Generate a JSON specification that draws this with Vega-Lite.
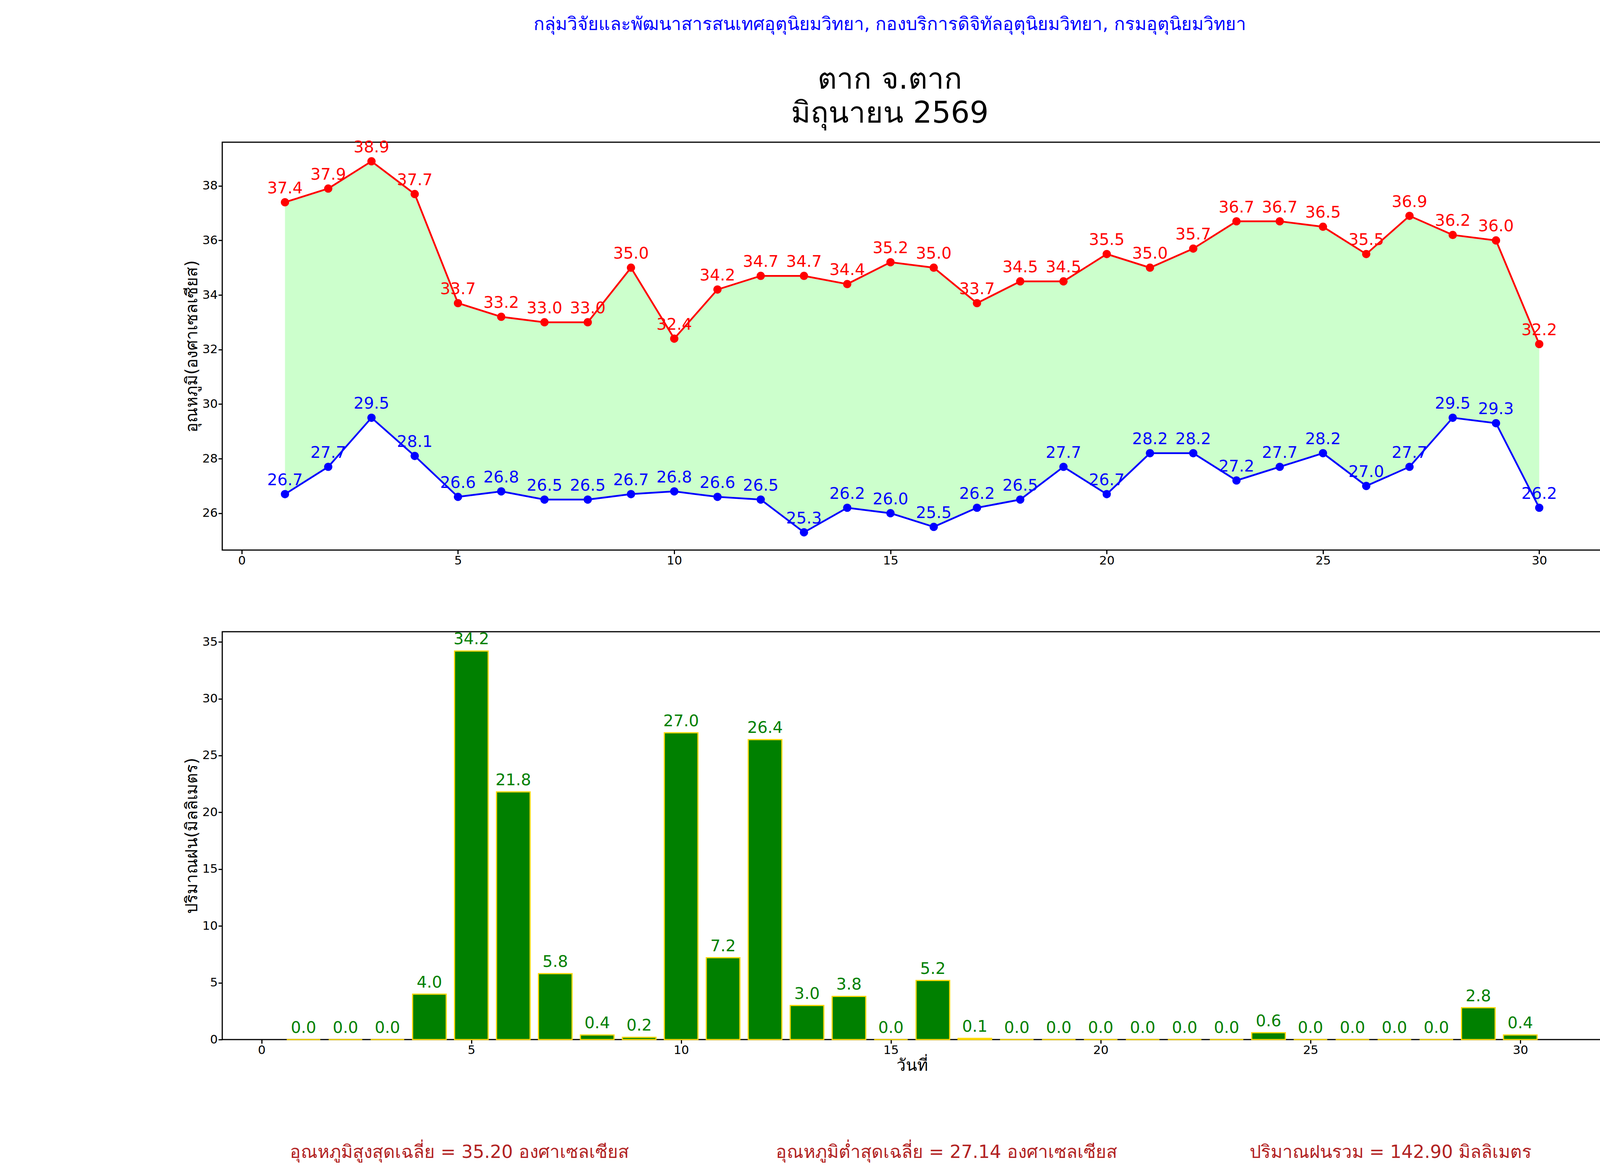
{
"$schema":"https://vega.github.io/schema/vega-lite/v6.json",
"padding":{"left":469,"top":40,"right":0,"bottom":0},
"background":"white",
"config":{"font":"DejaVu Sans","view":{"stroke":"black","strokeWidth":3},"axis":{"grid":false,"labelFontSize":31,"titleFontSize":42,"titleFontWeight":"normal","domain":false,"tickColor":"black","tickWidth":3,"tickSize":10,"labelColor":"black","titleColor":"black"}},
"title":{"text":"กลุ่มวิจัยและพัฒนาสารสนเทศอุตุนิยมวิทยา, กองบริการดิจิทัลอุตุนิยมวิทยา, กรมอุตุนิยมวิทยา","color":"blue","fontSize":46,"fontWeight":"normal","subtitle":["ตาก จ.ตาก","มิถุนายน 2569"],"subtitleColor":"black","subtitleFontSize":76,"subtitleLineHeight":87,"subtitlePadding":80,"anchor":"start","frame":"group","dx":1709,"align":"center","offset":25},
"datasets":{"d":[
{"day":1,"tmax":37.4,"tmin":26.7,"rain":0},{"day":2,"tmax":37.9,"tmin":27.7,"rain":0},{"day":3,"tmax":38.9,"tmin":29.5,"rain":0},{"day":4,"tmax":37.7,"tmin":28.1,"rain":4.0},{"day":5,"tmax":33.7,"tmin":26.6,"rain":34.2},{"day":6,"tmax":33.2,"tmin":26.8,"rain":21.8},{"day":7,"tmax":33.0,"tmin":26.5,"rain":5.8},{"day":8,"tmax":33.0,"tmin":26.5,"rain":0.4},{"day":9,"tmax":35.0,"tmin":26.7,"rain":0.2},{"day":10,"tmax":32.4,"tmin":26.8,"rain":27.0},{"day":11,"tmax":34.2,"tmin":26.6,"rain":7.2},{"day":12,"tmax":34.7,"tmin":26.5,"rain":26.4},{"day":13,"tmax":34.7,"tmin":25.3,"rain":3.0},{"day":14,"tmax":34.4,"tmin":26.2,"rain":3.8},{"day":15,"tmax":35.2,"tmin":26.0,"rain":0},{"day":16,"tmax":35.0,"tmin":25.5,"rain":5.2},{"day":17,"tmax":33.7,"tmin":26.2,"rain":0.1},{"day":18,"tmax":34.5,"tmin":26.5,"rain":0},{"day":19,"tmax":34.5,"tmin":27.7,"rain":0},{"day":20,"tmax":35.5,"tmin":26.7,"rain":0},{"day":21,"tmax":35.0,"tmin":28.2,"rain":0},{"day":22,"tmax":35.7,"tmin":28.2,"rain":0},{"day":23,"tmax":36.7,"tmin":27.2,"rain":0},{"day":24,"tmax":36.7,"tmin":27.7,"rain":0.6},{"day":25,"tmax":36.5,"tmin":28.2,"rain":0},{"day":26,"tmax":35.5,"tmin":27.0,"rain":0},{"day":27,"tmax":36.9,"tmin":27.7,"rain":0},{"day":28,"tmax":36.2,"tmin":29.5,"rain":0},{"day":29,"tmax":36.0,"tmin":29.3,"rain":2.8},{"day":30,"tmax":32.2,"tmin":26.2,"rain":0.4}],
"f":[{"x":607,"t":"อุณหภูมิสูงสุดเฉลี่ย = 35.20 องศาเซลเซียส"},{"x":1854,"t":"อุณหภูมิต่ำสุดเฉลี่ย = 27.14 องศาเซลเซียส"},{"x":2991,"t":"ปริมาณฝนรวม = 142.90 มิลลิเมตร"}]},
"spacing":150,
"vconcat":[
{"spacing":162,"vconcat":[
{"width":3532,"height":1044,"data":{"name":"d"},
"encoding":{"x":{"field":"day","type":"quantitative","scale":{"domain":[-0.45,31.45],"nice":false,"zero":false},"axis":{"values":[0,5,10,15,20,25,30],"title":null}}},
"layer":[
{"mark":{"type":"area","color":"#ccffcc"},"encoding":{"y":{"field":"tmax","type":"quantitative","scale":{"domain":[24.65,39.6],"nice":false,"zero":false},"axis":{"values":[26,28,30,32,34,36,38],"format":"d","title":"อุณหภูมิ(องศาเซลเซียส)"}},"y2":{"field":"tmin"}}},
{"mark":{"type":"line","color":"red","strokeWidth":4.5},"encoding":{"y":{"field":"tmax","type":"quantitative"}}},
{"mark":{"type":"line","color":"blue","strokeWidth":4.5},"encoding":{"y":{"field":"tmin","type":"quantitative"}}},
{"mark":{"type":"circle","color":"red","size":450,"opacity":1},"encoding":{"y":{"field":"tmax","type":"quantitative"}}},
{"mark":{"type":"circle","color":"blue","size":450,"opacity":1},"encoding":{"y":{"field":"tmin","type":"quantitative"}}},
{"mark":{"type":"text","color":"red","fontSize":41,"baseline":"bottom","dy":-14},"encoding":{"y":{"field":"tmax","type":"quantitative"},"text":{"field":"tmax","format":".1f"}}},
{"mark":{"type":"text","color":"blue","fontSize":41,"baseline":"bottom","dy":-14},"encoding":{"y":{"field":"tmin","type":"quantitative"},"text":{"field":"tmin","format":".1f"}}}
]},
{"width":3532,"height":1044,"data":{"name":"d"},
"encoding":{"x":{"field":"day","type":"quantitative","scale":{"domain":[-0.89,31.9],"nice":false,"zero":false},"axis":{"values":[0,5,10,15,20,25,30],"title":"วันที่"}}},
"layer":[
{"mark":{"type":"bar","color":"green","stroke":"gold","strokeWidth":3,"size":86},"encoding":{"y":{"field":"rain","type":"quantitative","scale":{"domain":[0,35.9],"nice":false},"axis":{"values":[0,5,10,15,20,25,30,35],"format":"d","title":"ปริมาณฝน(มิลลิเมตร)"}}}},
{"mark":{"type":"text","color":"green","fontSize":41,"baseline":"bottom","dy":-8},"encoding":{"y":{"field":"rain","type":"quantitative"},"text":{"field":"rain","format":".1f"}}}
]}]},
{"width":3930,"height":100,"view":{"stroke":null},"data":{"name":"f"},
"mark":{"type":"text","color":"#b22222","fontSize":46},
"encoding":{"x":{"field":"x","type":"quantitative","scale":{"domain":[0,3930]},"axis":null},"text":{"field":"t"}}}
]}
